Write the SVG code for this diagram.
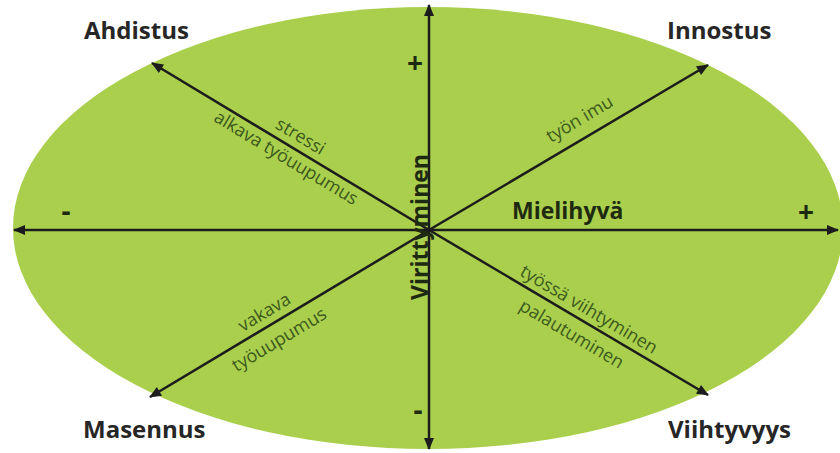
<svg xmlns="http://www.w3.org/2000/svg" width="840" height="453" viewBox="0 0 840 453">
  <style>
    .corner { font-family: "Open Sans", "Liberation Sans", sans-serif; font-weight: bold; font-size: 24px; fill: #262626; }
    .axis { font-family: "Open Sans", "Liberation Sans", sans-serif; font-weight: bold; font-size: 23px; fill: #1e2a10; }
    .sign { font-family: "Open Sans", "Liberation Sans", sans-serif; font-weight: bold; font-size: 28px; fill: #1e2a10; text-anchor: middle; }
    .lbl { font-family: "Open Sans", "Liberation Sans", sans-serif; font-size: 18px; fill: #3d5a1c; text-anchor: middle; }
    .ln { stroke: #1c1c1c; stroke-width: 2.5; fill: none; marker-end: url(#ah); }
  </style>
  <defs>
    <marker id="ah" viewBox="0 0 12 10" refX="11" refY="5" markerWidth="13" markerHeight="10" markerUnits="userSpaceOnUse" orient="auto-start-reverse">
      <path d="M0,0 L12,5 L0,10 Z" fill="#1c1c1c"/>
    </marker>
  </defs>
  <rect width="840" height="453" fill="#ffffff"/>
  <g id="ellipse">
    <ellipse cx="428" cy="228" rx="415" ry="221" fill="#a9cf4c"/>
  </g>
  <g id="connectors">
    <line class="ln" x1="429" y1="230" x2="14" y2="230"/>
    <line class="ln" x1="429" y1="230" x2="838" y2="230"/>
    <line class="ln" x1="429" y1="230" x2="429" y2="5" />
    <line class="ln" x1="429" y1="230" x2="429" y2="449" />
    <line class="ln" x1="429" y1="230" x2="152" y2="63"/>
    <line class="ln" x1="429" y1="230" x2="708" y2="65"/>
    <line class="ln" x1="429" y1="230" x2="150" y2="397"/>
    <line class="ln" x1="429" y1="230" x2="708" y2="395"/>
  </g>
  <g id="signs">
    <text class="sign" x="415" y="73">+</text>
    <text class="sign" x="418" y="420">-</text>
    <text class="sign" x="66" y="221">-</text>
    <text class="sign" x="806" y="222">+</text>
  </g>
  <g id="node-ahdistus"><text class="corner" x="84" y="39">Ahdistus</text></g>
  <g id="node-innostus"><text class="corner" x="667" y="39">Innostus</text></g>
  <g id="node-masennus"><text class="corner" x="83" y="438">Masennus</text></g>
  <g id="node-viihtyvyys"><text class="corner" x="668" y="438">Viihtyvyys</text></g>
  <g id="axis-mielihyva"><text class="axis" x="512" y="219">Mielihyvä</text></g>
  <g id="axis-virittyminen"><text class="axis" transform="translate(428,227) rotate(-90)" text-anchor="middle">Virittyminen</text></g>
  <g id="labels">
    <text class="lbl" transform="translate(293.4,148.3) rotate(31.1)" y="-8">stressi</text>
    <text class="lbl" transform="translate(292.4,147.6) rotate(31.1)" y="18">alkava työuupumus</text>
    <text class="lbl" transform="translate(589.2,135.3) rotate(-30.6)" y="-13">työn imu</text>
    <text class="lbl" transform="translate(271.6,324.3) rotate(-30.9)" y="-8">vakava</text>
    <text class="lbl" transform="translate(270.4,325) rotate(-30.9)" y="23">työuupumus</text>
    <text class="lbl" transform="translate(582.3,320.6) rotate(30.6)" y="-7">työssä viihtyminen</text>
    <text class="lbl" transform="translate(580.3,319.4) rotate(30.6)" y="23">palautuminen</text>
  </g>
</svg>
